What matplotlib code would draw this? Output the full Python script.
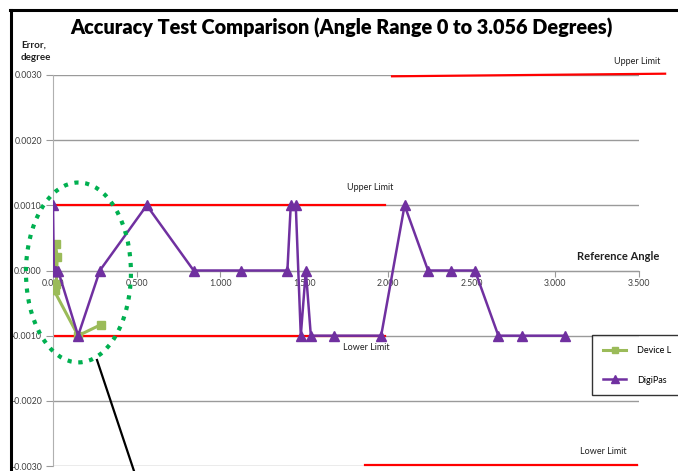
import matplotlib
matplotlib.use("Agg")
import matplotlib.pyplot as plt
from matplotlib.patches import Ellipse
from matplotlib.lines import Line2D
from matplotlib.ticker import FormatStrFormatter

plt.rcParams['font.family'] = ['Lato', 'DejaVu Sans']

# ---- data ----
title = "Accuracy Test Comparison (Angle Range 0 to 3.056 Degrees)"
digipas_x = [0.0, 0.005, 0.012, 0.02, 0.03, 0.15, 0.28, 0.56, 0.84, 1.12, 1.40,
             1.42, 1.45, 1.48, 1.51, 1.54, 1.68, 1.96, 2.10, 2.24, 2.38, 2.52,
             2.66, 2.80, 3.056]
digipas_y = [0.001, 0.0, 0.0, 0.0, 0.0, -0.001, 0.0, 0.001, 0.0, 0.0, 0.0,
             0.001, 0.001, -0.001, 0.0, -0.001, -0.001, -0.001, 0.001, 0.0, 0.0, 0.0,
             -0.001, -0.001, -0.001]
device_x = [0.005, 0.015, 0.025, 0.02, 0.01, 0.005, 0.15, 0.287]
device_y = [0.0, 0.0004, 0.0002, -0.0002, -0.0003, -0.0003, -0.001, -0.00083]
upper_limit = 0.001
lower_limit = -0.001
limit_end = 1.985
outer_upper = [0.00298, 0.00302]
outer_upper_x = [2.025, 3.656]
outer_lower = [-0.00299, -0.00299]
outer_lower_x = [1.864, 3.489]
x_ticks = [0.0, 0.5, 1.0, 1.5, 2.0, 2.5, 3.0, 3.5]
y_ticks = [-0.003, -0.002, -0.001, 0.0, 0.001, 0.002, 0.003]

W, H = 678, 471
fig = plt.figure(figsize=(W / 100, H / 100), dpi=100)

def fx(x):
    return x / W

def fy(y):
    return 1 - y / H

ax = fig.add_axes([fx(53), fy(466), (639 - 53) / W, (466 - 75) / H])
ax.set_xlim(0, 3.5)
ax.set_ylim(-0.003, 0.003)

grey = '#9a9a9a'
for s in ['top', 'right']:
    ax.spines[s].set_visible(False)
ax.spines['left'].set_color('#b0b0b0')
ax.spines['bottom'].set_position(('data', 0))
ax.spines['bottom'].set_color(grey)
ax.set_xticks(x_ticks)
ax.set_yticks(y_ticks)
ax.xaxis.set_major_formatter(FormatStrFormatter('%.3f'))
ax.yaxis.set_major_formatter(FormatStrFormatter('%.4f'))
ax.tick_params(axis='x', colors=grey, labelcolor='#404040', labelsize=6.3, length=4, pad=2)
ax.tick_params(axis='y', colors=grey, labelcolor='#404040', labelsize=6.3, length=5, pad=3)
ax.grid(axis='y', color=grey, linewidth=1)
ax.set_axisbelow(True)

# limits
ax.plot([0, limit_end], [upper_limit, upper_limit], color='red', lw=1.6, zorder=2)
ax.plot([0, limit_end], [lower_limit, lower_limit], color='red', lw=1.6, zorder=2)
ax.plot(outer_upper_x, outer_upper, color='red', lw=1.6, clip_on=False, zorder=2)
ax.plot(outer_lower_x, outer_lower, color='red', lw=1.6, clip_on=False, zorder=2)

# series
ax.plot(device_x, device_y, color='#9BBB59', marker='s', ms=6, lw=2.2,
        label='Device L', zorder=3)
ax.plot(digipas_x, digipas_y, color='#7030A0', marker='^', ms=7, lw=1.8,
        label='DigiPas', zorder=4)

# ellipse
ell = Ellipse((0.152, -0.00003), 0.627, 0.00276, fill=False, edgecolor='#00B050',
              linestyle=(0, (1, 1.6)), lw=3, zorder=5, clip_on=False)
ax.add_patch(ell)

# texts
fig.text(fx(341), fy(28), title, ha='center', va='center', fontsize=14.3,
         fontweight='heavy', color='black')
fig.text(fx(21), fy(51), "Error,\ndegree", ha='left', va='center', fontsize=7,
         fontweight='bold', color='#202020', linespacing=1.5)
fig.text(fx(618), fy(257), "Reference Angle", ha='center', va='center', fontsize=8,
         fontweight='bold', color='#202020')
fig.text(fx(370), fy(187), "Upper Limit", ha='center', va='center', fontsize=6.5, color='#202020')
fig.text(fx(366), fy(348), "Lower Limit", ha='center', va='center', fontsize=6.5, color='#202020')
fig.text(fx(637), fy(62), "Upper Limit", ha='center', va='center', fontsize=6.5, color='#202020')
fig.text(fx(603), fy(452), "Lower Limit", ha='center', va='center', fontsize=6.5, color='#202020')

# frame lines
fig.add_artist(Line2D([fx(11), fx(11)], [fy(10), 0], color='black', lw=2.2))
fig.add_artist(Line2D([fx(10), 1], [fy(10), fy(10)], color='black', lw=2.2))
# annotation pointer
fig.add_artist(Line2D([fx(97), fx(134)], [fy(360), 0], color='black', lw=1.6))

# legend
leg = fig.legend(loc='upper left', bbox_to_anchor=(fx(592), fy(335)), fontsize=6.5,
                 frameon=True, fancybox=False, edgecolor='black', handlelength=2.6,
                 handletextpad=1.2, labelspacing=2.3, borderpad=1.2, borderaxespad=0,
                 markerscale=0.8)
leg.get_frame().set_linewidth(1)

fig.savefig('out.png', dpi=100)
